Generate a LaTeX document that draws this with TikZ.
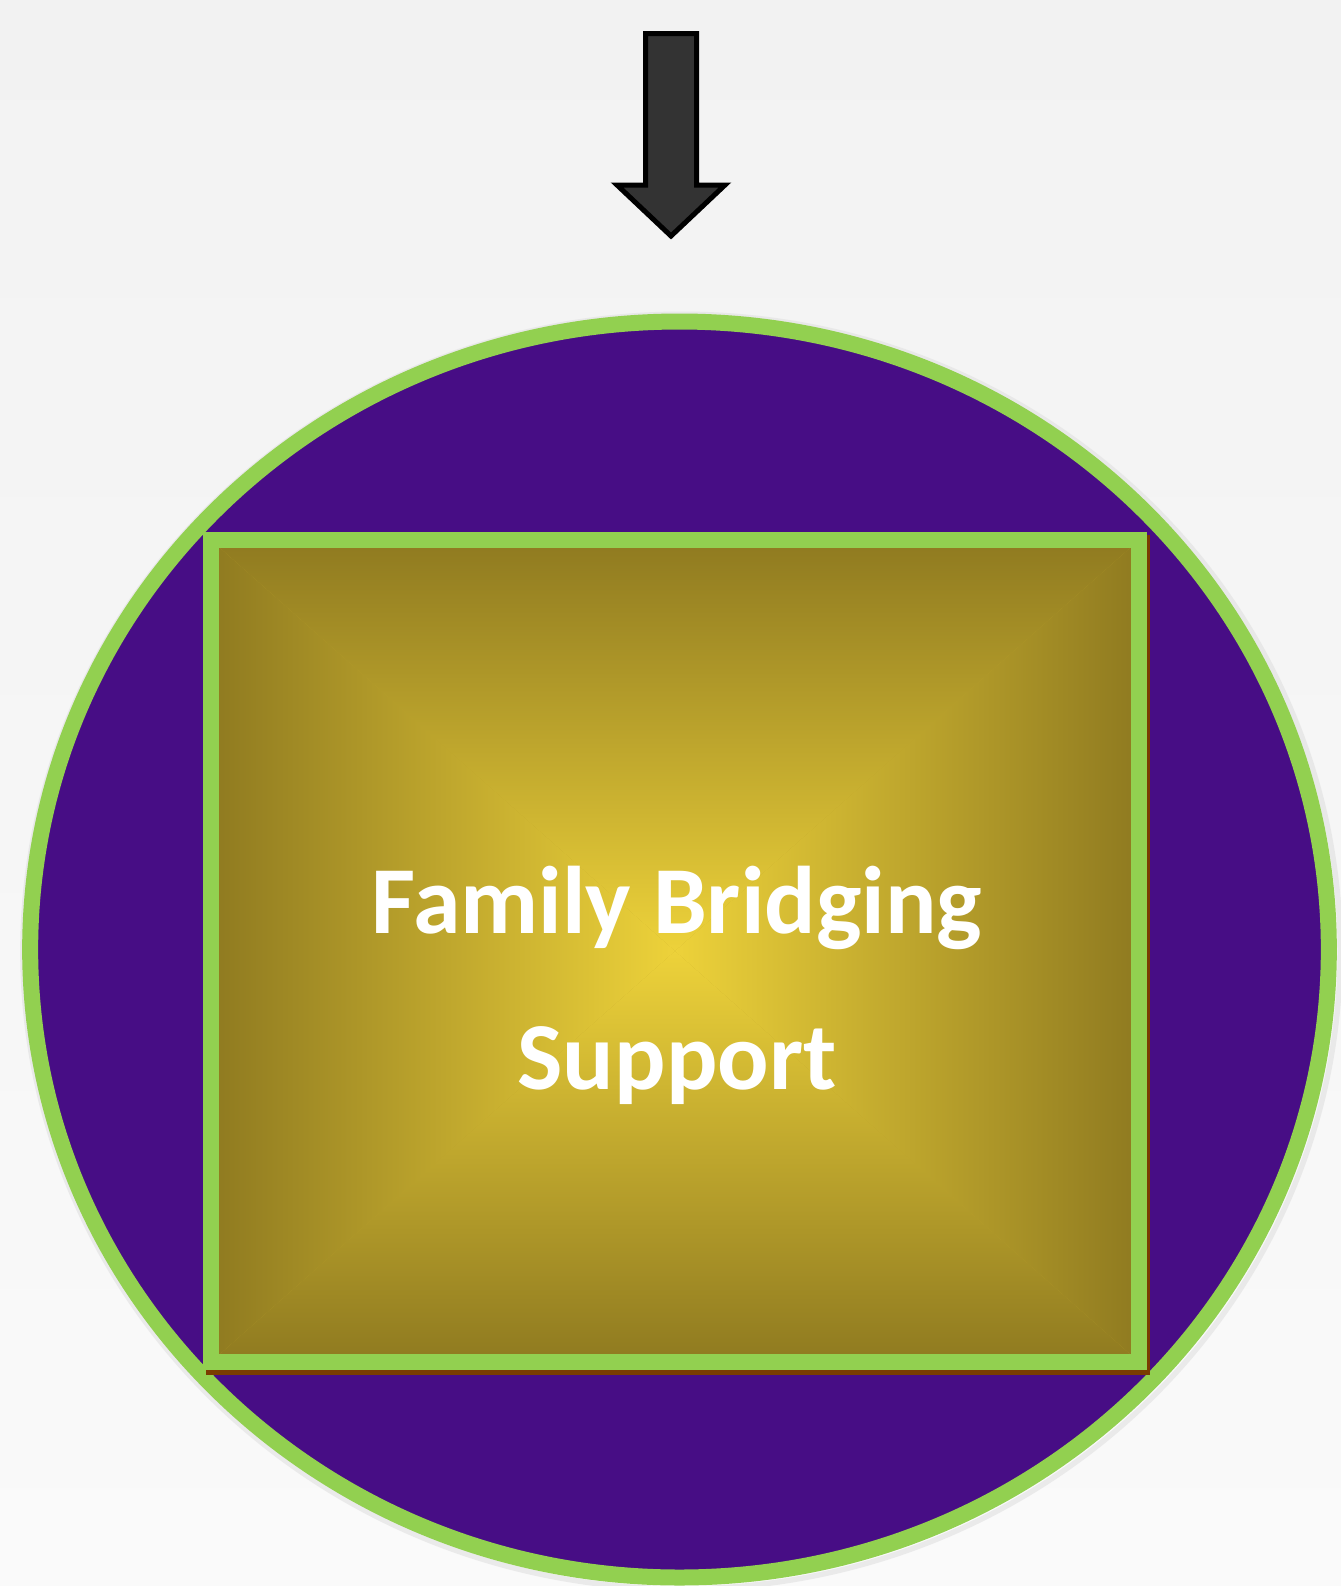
\documentclass[tikz,border=0pt]{standalone}
\usepackage{fontspec}
\setmainfont{Carlito}
\usetikzlibrary{positioning,calc}
\definecolor{bgTop}{HTML}{F2F2F2}
\definecolor{bgBot}{HTML}{FAFAFA}
\definecolor{ringColor}{HTML}{92D050}
\definecolor{discColor}{HTML}{470D85}
\definecolor{edgeGold}{HTML}{8F7A20}
\definecolor{halfGold}{HTML}{BFA42C}
\definecolor{midGold}{HTML}{EDD23A}
\definecolor{shadowBrown}{HTML}{7A3C00}
\definecolor{arrowGray}{HTML}{333333}
\tikzset{
	ring/.style={draw=ringColor, line width=12pt},
	blockarrow/.style={draw=black, fill=arrowGray, line width=3.75pt, miter limit=10},
	caption/.style={text=white, font=\bfseries\fontsize{72}{117}\selectfont, inner sep=0, anchor=base}
}
\begin{document}
\begin{tikzpicture}[x=0.75pt, y=-0.75pt]
	\useasboundingbox (0,0) rectangle (1341,1586);
	\shade[top color=bgTop, bottom color=bgBot] (0,0) rectangle (1341,1586);
	% arrow on top
	\coordinate (tip) at (671,236);
	\draw[blockarrow] (645.5,33.5) -- (696.5,33.5) -- (696.5,185) -- (725,185) -- (tip)
		-- (617,185) -- (645.5,185) -- cycle;
	% disc
	\coordinate (mid) at (679.5,949.5);
	\draw[draw=black!12, line width=4pt, opacity=.6] ($(mid)+(2,2)$) ellipse [x radius=494pt, y radius=478pt];
	\fill[discColor] (mid) ellipse [x radius=487pt, y radius=471pt];
	\draw[ring] (mid) ellipse [x radius=487pt, y radius=471pt];
	% box
	\coordinate (nw) at (211,540);
	\coordinate (ne) at (1139,540);
	\coordinate (se) at (1139,1362);
	\coordinate (sw) at (211,1362);
	\coordinate (c) at (675,951);
	\fill[shadowBrown] (206,535) rectangle (1150,1375);
	\fill[halfGold] (nw) rectangle (se);
	\shade[top color=edgeGold, middle color=halfGold, bottom color=midGold] (nw) -- (ne) -- (c) -- cycle;
	\shade[top color=midGold, middle color=halfGold, bottom color=edgeGold] (sw) -- (se) -- (c) -- cycle;
	\shade[left color=edgeGold, middle color=halfGold, right color=midGold] (nw) -- (sw) -- (c) -- cycle;
	\shade[left color=midGold, middle color=halfGold, right color=edgeGold] (ne) -- (se) -- (c) -- cycle;
	\draw[ring, line join=miter] (nw) rectangle (se);
	\node[caption] (fam) at (677,933) {Family Bridging};
	\node[caption] (sup) at (677,1089) {Support};
\end{tikzpicture}
\end{document}
